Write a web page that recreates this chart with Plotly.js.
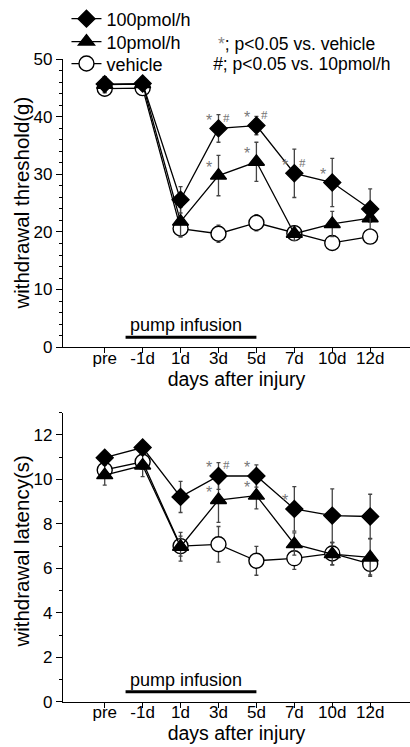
<!DOCTYPE html>
<html>
<head>
<meta charset="utf-8">
<script src="https://cdn.plot.ly/plotly-3.0.1.min.js"></script>
<style>html,body{margin:0;padding:0;background:#fff;}#chart{width:410px;height:747px;}</style>
</head>
<body>
<div id="chart"></div>
<script>
// ---- data ----
var categories = ['pre', '-1d', '1d', '3d', '5d', '7d', '10d', '12d'];
var seriesNames = ['100pmol/h', '10pmol/h', 'vehicle'];

// withdrawal threshold (g)
var thr100 = [45.7, 45.8, 25.6, 38.0, 38.5, 30.2, 28.6, 24.0];
var thr100Err = [1.3, 1.0, 2.3, 2.4, 1.6, 4.2, 4.2, 3.5];
var thr10 = [45.6, 45.7, 21.8, 29.8, 32.2, 19.7, 21.4, 22.4];
var thr10Err = [1.4, 1.0, 2.5, 3.5, 3.4, 1.2, 2.2, 0.7];
var thrVeh = [44.9, 45.0, 20.6, 19.7, 21.6, 19.8, 18.1, 19.2];
var thrVehErr = [1.2, 1.0, 1.5, 1.5, 1.4, 1.2, 1.0, 1.0];

// withdrawal latency (s)
var lat100 = [10.97, 11.43, 9.21, 10.15, 10.15, 8.67, 8.37, 8.33];
var lat100Err = [0.2, 0.25, 0.7, 0.6, 0.5, 1.0, 1.2, 1.0];
var lat10 = [10.19, 10.62, 6.97, 9.07, 9.27, 7.09, 6.64, 6.49];
var lat10Err = [0.45, 0.5, 0.65, 1.0, 0.6, 0.5, 0.5, 0.85];
var latVeh = [10.42, 10.79, 7.0, 7.08, 6.34, 6.45, 6.67, 6.2];
var latVehErr = [0.25, 0.3, 0.45, 0.8, 0.65, 0.5, 0.5, 0.5];

// significance marks: category, series index (0=100, 1=10), mark
var sigTopCats = ['3d', '3d', '5d', '5d', '3d', '5d', '7d', '7d', '10d'];
var sigTopSeries = [0, 0, 0, 0, 1, 1, 0, 0, 0];
var sigTopMarks = ['*', '#', '*', '#', '*', '*', '*', '#', '*'];
var sigBotCats = ['3d', '3d', '5d', '3d', '5d', '7d'];
var sigBotSeries = [0, 0, 0, 1, 1, 0];
var sigBotMarks = ['*', '#', '*', '*', '*', '*'];

var pumpStart = '-1d', pumpEnd = '5d';
var yTitles = ['withdrawal threshold(g)', 'withdrawal latency(s)'];

// ---- styles ----
var FONT = 'Liberation Sans, Arial, sans-serif';
var symbols = ['diamond', 'triangle-up', 'circle'];
var mcolors = ['black', 'black', 'white'];
var msizes = [13, 14, 15];
var legendIds = ['legend', 'legend2', 'legend3'];
var topDomain = [0.5368, 0.923], botDomain = [0.0606, 0.4489];

function traces(vals, errs, xa, ya, showLegend) {
  var out = [];
  // draw vehicle first so filled markers sit on top
  for (var k = 2; k >= 0; k--) {
    out.push({
      type: 'scatter', mode: 'lines+markers',
      x: categories, y: vals[k], xaxis: xa, yaxis: ya,
      name: seriesNames[k], showlegend: showLegend, legend: legendIds[k],
      line: {color: 'black', width: 1.3},
      marker: {symbol: symbols[k], size: msizes[k], color: mcolors[k], line: {color: 'black', width: 1.4}},
      error_y: {type: 'data', array: errs[k], visible: true, color: '#444', thickness: 1.3, width: 2}
    });
  }
  return out;
}

var data = [].concat(
  traces([thr100, thr10, thrVeh], [thr100Err, thr10Err, thrVehErr], 'x', 'y', true),
  traces([lat100, lat10, latVeh], [lat100Err, lat10Err, latVehErr], 'x2', 'y2', false)
);

function sigAnn(cats, ser, marks, vals, xref, yref) {
  var out = [];
  for (var i = 0; i < cats.length; i++) {
    var idx = categories.indexOf(cats[i]);
    var v = vals[ser[i]][idx];
    var isStar = marks[i] === '*';
    out.push({
      x: cats[i], y: v, xref: xref, yref: yref, text: marks[i], showarrow: false,
      xshift: isStar ? -9 : 8, yshift: isStar ? 8 : 11,
      font: {family: isStar ? FONT : 'Liberation Serif, serif', size: isStar ? 16 : 13, color: '#777'}
    });
  }
  return out;
}

var annotations = [].concat(
  sigAnn(sigTopCats, sigTopSeries, sigTopMarks, [thr100, thr10, thrVeh], 'x', 'y'),
  sigAnn(sigBotCats, sigBotSeries, sigBotMarks, [lat100, lat10, latVeh], 'x2', 'y2'),
  [
    {xref: 'paper', yref: 'paper', x: 0.445, y: 1 - 42 / 747, xanchor: 'left', yanchor: 'middle', showarrow: false,
     borderpad: 0, text: '<span style="color:#888">*</span>; p<0.05 vs. vehicle', font: {family: FONT, size: 17.5, color: 'black'}},
    {xref: 'paper', yref: 'paper', x: 0.43, y: 1 - 62 / 747, xanchor: 'left', yanchor: 'middle', showarrow: false,
     borderpad: 0, text: '<i>#</i>; p<0.05 vs. 10pmol/h', font: {family: FONT, size: 17.5, color: 'black'}},
    {xref: 'x', yref: 'y', x: 2.15, y: 3.8, showarrow: false, text: 'pump infusion',
     font: {family: FONT, size: 18, color: 'black'}},
    {xref: 'x2', yref: 'y2', x: 2.15, y: 1.0, showarrow: false, text: 'pump infusion',
     font: {family: FONT, size: 18, color: 'black'}},
    {xref: 'paper', yref: 'paper', x: -0.12, y: (topDomain[0] + topDomain[1]) / 2, textangle: -90,
     xanchor: 'center', yanchor: 'middle',
     showarrow: false, text: yTitles[0], font: {family: FONT, size: 20.5, color: 'black'}},
    {xref: 'paper', yref: 'paper', x: -0.12, y: (botDomain[0] + botDomain[1]) / 2 + 0.008, textangle: -90,
     xanchor: 'center', yanchor: 'middle',
     showarrow: false, text: yTitles[1], font: {family: FONT, size: 20.5, color: 'black'}}
  ]
);

var s0 = categories.indexOf(pumpStart) - 0.45, s1 = categories.indexOf(pumpEnd);
var shapes = [
  {type: 'line', xref: 'x', yref: 'y', x0: s0, x1: s1, y0: 1.7, y1: 1.7, line: {color: 'black', width: 3}},
  {type: 'line', xref: 'x2', yref: 'y2', x0: s0, x1: s1, y0: 0.45, y1: 0.45, line: {color: 'black', width: 3}}
];

function xaxis(anchor) {
  return {
    anchor: anchor, domain: [0, 1], type: 'category', categoryorder: 'array', categoryarray: categories,
    range: [-1.1, 8.05], showline: true, linecolor: 'black', linewidth: 1.2, ticks: 'outside', ticklen: 5,
    tickcolor: 'black', showgrid: false, zeroline: false, ticklabelstandoff: -10,
    tickfont: {family: FONT, size: 17, color: 'black'},
    title: {text: 'days after injury', font: {family: FONT, size: 19.5, color: 'black'}, standoff: 0}
  };
}
function yaxis(anchor, domain, range, dtick, minorDtick) {
  return {
    anchor: anchor, domain: domain, range: range, dtick: dtick, showline: true, linecolor: 'black', linewidth: 1.2,
    ticks: 'outside', ticklen: 6, tickcolor: 'black', showgrid: false, zeroline: false,
    minor: {dtick: minorDtick, ticks: 'outside', ticklen: 3, tickcolor: 'black', showgrid: false},
    tickfont: {family: FONT, size: 17, color: 'black'}
  };
}

function legendAt(ypx) {
  return {x: 0.01, y: 1 - ypx / 747, xanchor: 'left', yanchor: 'middle', bgcolor: 'rgba(0,0,0,0)',
          font: {family: FONT, size: 18, color: 'black'}, itemwidth: 30};
}

var layout = {
  width: 410, height: 747, margin: {l: 63, r: 0, t: 0, b: 0},
  paper_bgcolor: 'white', plot_bgcolor: 'white',
  showlegend: true,
  legend: legendAt(17), legend2: legendAt(40), legend3: legendAt(62),
  xaxis: xaxis('y'),
  yaxis: yaxis('x', topDomain, [0, 50], 10, 2),
  xaxis2: xaxis('y2'),
  yaxis2: yaxis('x2', botDomain, [0, 13], 2, 1),
  annotations: annotations, shapes: shapes
};

Plotly.newPlot('chart', data, layout, {displayModeBar: false, staticPlot: true});
</script>
</body>
</html>
